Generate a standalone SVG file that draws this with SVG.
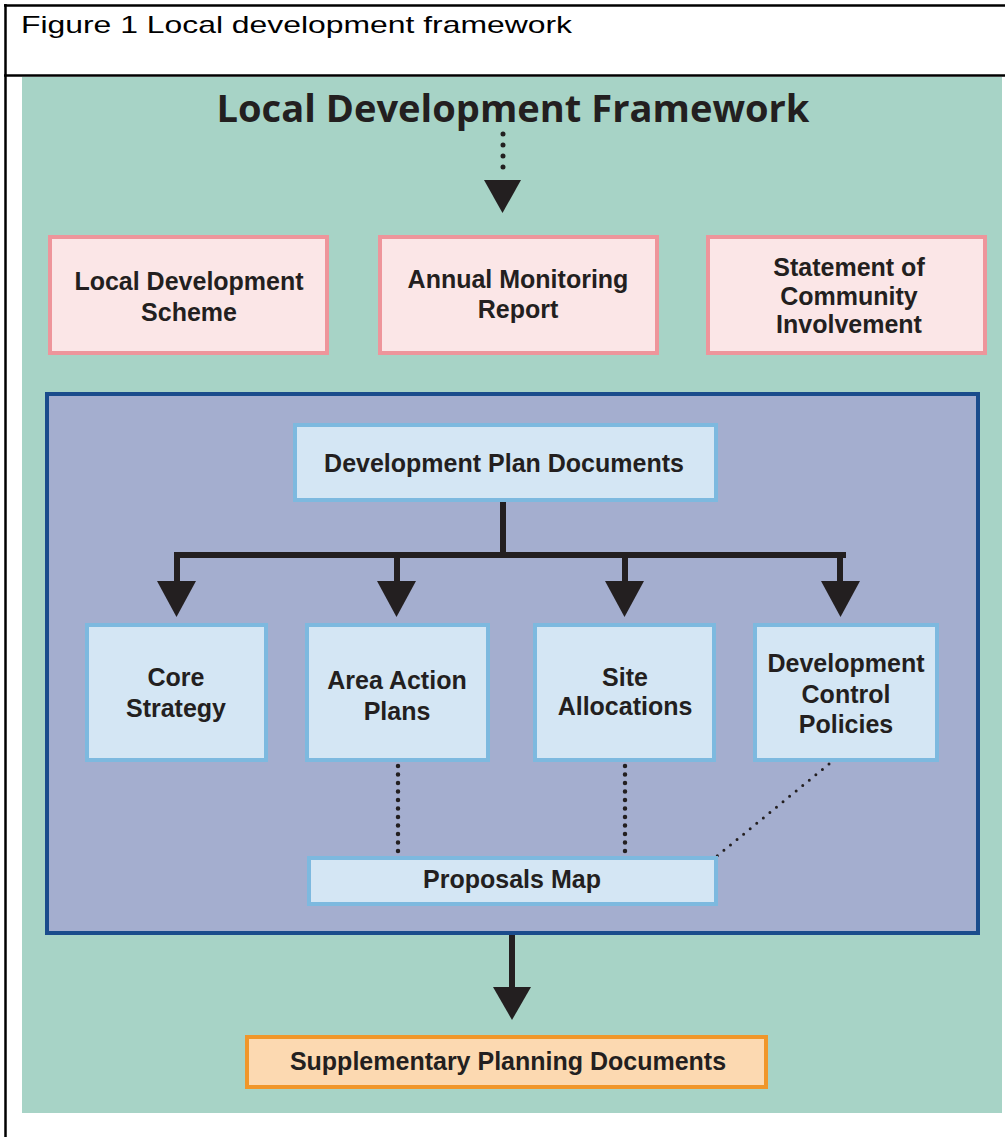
<svg xmlns="http://www.w3.org/2000/svg" width="1005" height="1137" viewBox="0 0 1005 1137">
  <style>
    .cap { font-family: "Liberation Sans", Arial, sans-serif; font-size: 24px; fill: #000; }
    .lbl { font-family: "Liberation Sans", Arial, sans-serif; font-weight: 700; font-size: 25px; fill: #231f20; text-anchor: middle; }
    .head { font-family: "Open Sans", "Noto Sans", sans-serif; font-weight: 700; font-size: 37px; fill: #231f20; text-anchor: middle; }
    .pink { fill: #fbe6e7; stroke: #ee959b; stroke-width: 4; }
    .blue { fill: #d4e6f4; stroke: #7db9df; stroke-width: 4; }
    .orange { fill: #fcd9b1; stroke: #f0962a; stroke-width: 4; }
    .solid { stroke: #231f20; stroke-width: 6; fill: none; }
    .dots { stroke: #231f20; stroke-width: 4.5; stroke-dasharray: 0 8.5; stroke-linecap: round; fill: none; }
    .topdots { stroke: #231f20; stroke-width: 5; stroke-dasharray: 0 11; stroke-linecap: round; fill: none; }
    .fine { stroke: #231f20; stroke-width: 3; stroke-dasharray: 0 8.5; stroke-linecap: round; fill: none; }
    .head-tri { fill: #231f20; }
  </style>

  <!-- table frame with caption row -->
  <g id="frame">
    <rect x="0" y="0" width="1005" height="1137" fill="#ffffff"/>
    <line x1="4" y1="5.5" x2="1005" y2="5.5" stroke="#000" stroke-width="2.5"/>
    <line x1="4" y1="75.5" x2="1005" y2="75.5" stroke="#000" stroke-width="2.5"/>
    <line x1="5.5" y1="4" x2="5.5" y2="1137" stroke="#000" stroke-width="2.5"/>
    <text class="cap" x="21" y="33" textLength="551" lengthAdjust="spacingAndGlyphs">Figure 1 Local development framework</text>
  </g>

  <!-- background panels -->
  <rect id="panel" x="22" y="77" width="980" height="1036" fill="#a7d3c6"/>
  <rect id="dpd-area" x="47" y="394" width="931" height="539" fill="#a4aecf" stroke="#1a4c8c" stroke-width="4"/>

  <text id="title" class="head" x="513" y="122" textLength="593" lengthAdjust="spacingAndGlyphs">Local Development Framework</text>

  <!-- connectors -->
  <g id="connectors">
    <line class="topdots" x1="503" y1="134" x2="503" y2="172"/>
    <polygon class="head-tri" points="484,180 521,180 502.5,213"/>

    <polyline class="solid" points="503,502 503,555"/>
    <line class="solid" x1="174" y1="555" x2="846" y2="555"/>
    <line class="solid" x1="177" y1="552" x2="177" y2="584"/>
    <line class="solid" x1="397" y1="552" x2="397" y2="584"/>
    <line class="solid" x1="625" y1="552" x2="625" y2="584"/>
    <line class="solid" x1="840" y1="552" x2="840" y2="584"/>
    <polygon class="head-tri" points="157,581 196,581 176.5,617"/>
    <polygon class="head-tri" points="377,581 416,581 396.5,617"/>
    <polygon class="head-tri" points="605,581 644,581 624.5,617"/>
    <polygon class="head-tri" points="821,581 860,581 840.5,617"/>

    <line class="dots" x1="398" y1="766" x2="398" y2="853"/>
    <line class="dots" x1="625" y1="766" x2="625" y2="852"/>
    <line class="fine" x1="829" y1="764" x2="717" y2="856"/>

    <line class="solid" x1="512" y1="935" x2="512" y2="990"/>
    <polygon class="head-tri" points="493,987 531,987 512,1020"/>
  </g>

  <g id="local-development-scheme">
    <rect class="pink" x="50" y="237" width="277" height="116"/>
    <text class="lbl" x="189" y="290">Local Development<tspan x="189" y="321">Scheme</tspan></text>
  </g>
  <g id="annual-monitoring-report">
    <rect class="pink" x="380" y="237" width="277" height="116"/>
    <text class="lbl" x="518" y="288">Annual Monitoring<tspan x="518" y="318">Report</tspan></text>
  </g>
  <g id="statement-of-community-involvement">
    <rect class="pink" x="708" y="237" width="277" height="116"/>
    <text class="lbl" x="849" y="276">Statement of<tspan x="849" y="305">Community</tspan><tspan x="849" y="333">Involvement</tspan></text>
  </g>

  <g id="development-plan-documents">
    <rect class="blue" x="295" y="425" width="421" height="75"/>
    <text class="lbl" x="504" y="472">Development Plan Documents</text>
  </g>

  <g id="core-strategy">
    <rect class="blue" x="87" y="625" width="179" height="135"/>
    <text class="lbl" x="176" y="686">Core<tspan x="176" y="717">Strategy</tspan></text>
  </g>
  <g id="area-action-plans">
    <rect class="blue" x="307" y="625" width="181" height="135"/>
    <text class="lbl" x="397" y="689">Area Action<tspan x="397" y="720">Plans</tspan></text>
  </g>
  <g id="site-allocations">
    <rect class="blue" x="535" y="625" width="179" height="135"/>
    <text class="lbl" x="625" y="686">Site<tspan x="625" y="715">Allocations</tspan></text>
  </g>
  <g id="development-control-policies">
    <rect class="blue" x="755" y="625" width="182" height="135"/>
    <text class="lbl" x="846" y="672">Development<tspan x="846" y="703">Control</tspan><tspan x="846" y="733">Policies</tspan></text>
  </g>

  <g id="proposals-map">
    <rect class="blue" x="309" y="858" width="407" height="46"/>
    <text class="lbl" x="512" y="888">Proposals Map</text>
  </g>

  <g id="supplementary-planning-documents">
    <rect class="orange" x="247" y="1037" width="519" height="50"/>
    <text class="lbl" x="508" y="1070">Supplementary Planning Documents</text>
  </g>
</svg>
